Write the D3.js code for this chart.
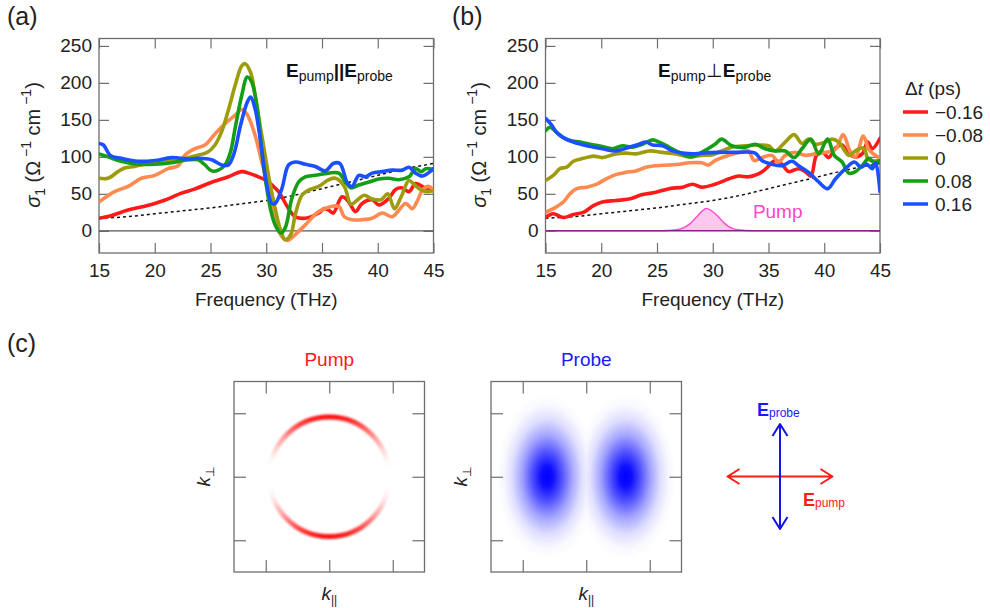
<!DOCTYPE html>
<html>
<head>
<meta charset="utf-8">
<script src="https://cdn.jsdelivr.net/npm/d3@7"></script>
<style>
  body { margin: 0; background: #fff; }
  svg { font-family: "Liberation Sans", Arial, sans-serif; }
</style>
</head>
<body>
<div id="chart"></div>
<script>
// delay labels and colours, shared by both panels and the legend
const delayLabels = ["\u22120.16", "\u22120.08", "0", "0.08", "0.16"];
const delayColors = ["#ff1a1a", "#ff8a50", "#9c9c0c", "#159e15", "#1a50ff"];

const freqTicks = [15, 20, 25, 30, 35, 40, 45];
const sigmaTicks = [0, 50, 100, 150, 200, 250];

// (a) E_pump || E_probe : [frequency THz, sigma_1]
const paraM016 = [[15,17],[16,20],[17.6,28],[19,33],[20,37],[21,42],[22.4,51],[23.5,56],[25,65],[26.6,73],[27.8,80],[28.4,78],[29.3,73],[30,68],[30.5,62],[31.1,53],[32,30],[32.6,19],[33.5,17],[34.7,24],[35.2,30],[35.6,28],[36,24],[36.8,46],[37.4,39],[38,26],[38.6,37],[39.5,42],[40.1,35],[41,44],[41.6,56],[42.2,58],[42.8,53],[43.4,64],[44,60],[44.6,55],[45,57]];
const paraM008 = [[15,39],[16.4,53],[17.6,60],[18.8,71],[20,75],[21.2,84],[22.1,88],[22.7,102],[23.6,111],[24.5,116],[25.4,131],[26.3,145],[27.2,156],[27.8,164],[28.3,157],[29,129],[29.6,93],[30,71],[30.4,42],[30.8,18],[31.4,-8],[31.9,-13],[32.6,-5],[33.5,8],[34.7,26],[35.6,32],[36.5,33],[37,19],[37.7,15],[38.6,15],[39.5,17],[40.4,24],[41.3,19],[41.9,28],[42.5,37],[43.1,30],[43.6,42],[44,55],[44.6,60],[45,54]];
const para000 = [[15,71],[15.8,71],[16.7,80],[17.3,85],[18.2,87],[19.4,91],[20.6,93],[22.1,96],[23.6,101],[24.8,107],[25.4,116],[26,134],[26.6,163],[27.2,196],[27.8,223],[28.1,226],[28.6,214],[29,183],[29.5,138],[30,93],[30.2,75],[30.8,30],[31.3,0],[31.7,-12],[32.2,-5],[32.6,22],[33.2,48],[33.8,55],[34.7,60],[35.6,69],[36.2,71],[37,60],[37.6,36],[38.2,42],[38.8,48],[39.5,43],[40.3,42],[40.9,50],[41.5,30],[42.1,46],[42.8,68],[43.3,62],[43.9,55],[44.5,53],[45,54]];
const paraP008 = [[15,104],[15.8,100],[17,94],[18.5,90],[20,90],[21.5,92],[23,96],[23.9,96],[24.5,89],[25.1,81],[25.7,82],[26.3,89],[26.8,107],[27.2,138],[27.8,183],[28.3,208],[28.7,201],[29.2,165],[29.6,107],[30,62],[30.4,28],[30.8,8],[31.3,-3],[31.7,4],[32.3,44],[32.9,66],[33.5,73],[34.4,75],[35.6,78],[36.5,78],[37.1,66],[37.6,58],[38.3,62],[39.2,66],[40.1,70],[41,71],[41.9,69],[42.8,73],[43.4,84],[43.9,80],[44.3,84],[45,83]];
const paraP016 = [[15,118],[15.4,116],[16,102],[17,98],[18.5,94],[20,95],[21.5,99],[23,97],[23.9,98],[25.1,96],[26,89],[26.6,89],[27.1,104],[27.7,143],[28.3,174],[28.6,181],[29,165],[29.5,120],[30,66],[30.5,37],[30.8,37],[31.4,57],[32,89],[32.6,93],[33.5,90],[34.4,87],[35.3,81],[36,91],[36.6,91],[37.3,64],[37.7,60],[38.3,75],[38.9,73],[39.5,78],[40.4,80],[41.3,82],[42.2,82],[42.8,86],[43.4,78],[44,74],[44.6,79],[45,84]];

// (b) E_pump perpendicular to E_probe
const perpM016 = [[15,18],[15.7,23],[16.6,18],[17.5,22],[18.4,25],[19.3,34],[20.1,39],[21.3,41],[22.5,43],[23.7,49],[24.9,52],[26.1,57],[27.3,59],[28.2,63],[29,59],[30.2,63],[31.4,70],[32.3,74],[33.2,73],[34.1,77],[34.7,83],[35.6,95],[36.2,90],[36.8,80],[37.7,84],[38.3,80],[38.8,74],[39.3,102],[39.8,107],[40.4,99],[41,112],[41.6,116],[42.2,104],[42.8,100],[43.4,104],[43.9,120],[44.3,111],[45,125]];
const perpM008 = [[15,25],[15.7,30],[16.6,39],[17.2,50],[17.8,57],[18.7,59],[19.6,63],[20.4,70],[21.3,76],[22.2,79],[23.1,81],[24,86],[24.9,88],[26.1,89],[27,90],[27.9,92],[29,92],[29.6,89],[30.2,95],[31.4,102],[32.3,106],[33.2,108],[33.7,95],[34.4,99],[35.3,102],[35.9,93],[36.5,102],[37.4,106],[38.3,102],[39.2,104],[40.1,106],[41,110],[41.7,130],[42.3,108],[42.8,100],[43.5,128],[44,110],[44.5,103],[45,98]];
const perp000 = [[15,68],[15.7,75],[16.3,84],[16.9,86],[17.5,94],[18.4,98],[19.3,101],[20.1,99],[21.3,104],[22.2,105],[23.1,104],[24.3,108],[25.5,106],[26.7,104],[27.9,100],[29,102],[30,103],[30.8,108],[31.7,113],[32.9,115],[34.1,116],[35,115],[35.6,108],[36.5,120],[37.3,130],[38,118],[38.6,124],[39.2,117],[40.1,120],[40.7,124],[41.3,120],[42.2,102],[42.8,108],[43.5,112],[44,96],[45,95]];
const perpP008 = [[15,135],[15.4,140],[16,133],[16.6,126],[17.2,122],[18.1,120],[19,117],[20.1,114],[21,111],[21.9,115],[22.8,113],[23.7,117],[24.6,123],[25.2,120],[26.1,113],[27,106],[28.1,100],[29,106],[30.2,117],[30.8,124],[31.7,115],[32.9,113],[33.8,117],[34.7,111],[35.6,108],[36.5,108],[37.3,99],[38,111],[38.8,124],[39.5,104],[40.3,124],[40.9,102],[41.6,93],[42.2,78],[42.8,80],[43.5,90],[44,98],[44.5,92],[45,95]];
const perpP016 = [[15,152],[15.5,144],[16,133],[16.6,126],[17.5,120],[18.7,115],[20.1,111],[21.3,108],[22.5,113],[23.4,117],[24,120],[24.6,116],[25.5,115],[26.4,108],[27.3,105],[28.2,104],[29,105],[30.5,106],[32,106],[33.8,105],[34.4,95],[35.3,90],[36.2,88],[37.1,94],[37.7,88],[38.6,79],[39.5,66],[40.3,57],[41,70],[41.9,84],[42.7,93],[43.3,86],[43.8,90],[44.3,84],[44.6,92],[45,53]];

// equilibrium sigma_1 (dotted) and pump spectrum (arb., drawn in sigma units)
const eqFreq  = [15, 17.5, 20, 22.5, 25, 27.5, 30, 32.5, 35, 37.5, 40, 42.5, 45];
const eqSigma = [17, 19, 23, 27, 31, 36, 41, 48, 57, 66, 75, 84, 91];
const pumpFreq = [15, 25, 26, 27, 27.5, 28, 28.5, 29, 29.4, 29.8, 30.3, 30.8, 31.3, 31.8, 32.5, 33.5, 35, 45];
const pumpAmp  = [0, 0, 0.3, 2, 5, 10, 18, 26, 30, 28, 22, 14, 7, 3, 1, 0.2, 0, 0];

const svg = d3.select("#chart").append("svg")
  .attr("width", 990).attr("height", 608)
  .style("background", "#fff");
const defs = svg.append("defs");

const frameColor = "#6e6e6e";
const textColor = "#222";

function addSigmaLabel(x, y) {
  const t = svg.append("text")
    .attr("transform", `translate(${x},${y}) rotate(-90)`)
    .attr("text-anchor", "middle")
    .attr("font-size", 20)
    .attr("fill", textColor);
  t.append("tspan").attr("font-style", "italic").text("\u03c3");
  t.append("tspan").attr("font-size", 14).attr("dy", 5).text("1");
  t.append("tspan").attr("dy", -5).text(" (\u03a9");
  t.append("tspan").attr("font-size", 14).attr("dy", -9).text(" \u22121");
  t.append("tspan").attr("dy", 9).text(" cm");
  t.append("tspan").attr("font-size", 14).attr("dy", -9).text(" \u22121");
  t.append("tspan").attr("dy", 9).text(")");
}

function spectrumPanel(left, id) {
  const right = left + 334.5, top = 38.5, bottom = 253;
  const x = d3.scaleLinear([15, 45], [left, right]);
  const y = d3.scaleLinear([-30, 260], [bottom, top]);
  const g = svg.append("g");

  defs.append("clipPath").attr("id", "clip-" + id)
    .append("rect").attr("x", left).attr("y", top)
    .attr("width", right - left).attr("height", bottom - top);

  const axes = [
    [d3.axisBottom(x).tickValues(freqTicks).tickSize(-10).tickPadding(11), `translate(0,${bottom})`],
    [d3.axisTop(x).tickValues(freqTicks).tickSize(-10).tickFormat(""), `translate(0,${top})`],
    [d3.axisLeft(y).tickValues(sigmaTicks).tickSize(-10).tickPadding(7), `translate(${left},0)`],
    [d3.axisRight(y).tickValues(sigmaTicks).tickSize(-10).tickFormat(""), `translate(${right},0)`]
  ];
  axes.forEach(([ax, tr]) => {
    const a = g.append("g").attr("transform", tr).call(ax);
    a.select(".domain").remove();
    a.selectAll("line").attr("stroke", frameColor).attr("stroke-width", 1.2);
    a.selectAll("text").attr("font-size", 19).attr("fill", textColor)
      .attr("font-family", "Liberation Sans, Arial, sans-serif");
  });

  g.append("rect").attr("x", left).attr("y", top)
    .attr("width", right - left).attr("height", bottom - top)
    .attr("fill", "none").attr("stroke", frameColor).attr("stroke-width", 1.3);

  g.append("text").attr("x", (left + right) / 2).attr("y", 306)
    .attr("text-anchor", "middle").attr("font-size", 19).attr("fill", textColor)
    .text("Frequency (THz)");

  const plot = g.append("g").attr("clip-path", `url(#clip-${id})`);

  return { x, y, g, plot, left, right };
}

function drawSeries(p, series) {
  const line = d3.line()
    .x(d => p.x(d[0])).y(d => p.y(d[1]))
    .curve(d3.curveCatmullRom.alpha(0.5));
  const dotted = d3.line()
    .x((d, i) => p.x(eqFreq[i])).y(d => p.y(d))
    .curve(d3.curveMonotoneX);
  p.plot.append("path").attr("d", dotted(eqSigma))
    .attr("fill", "none").attr("stroke", "#111")
    .attr("stroke-width", 1.5).attr("stroke-dasharray", "3,3");
  series.forEach((s, i) => {
    p.plot.append("path").attr("d", line(s))
      .attr("fill", "none").attr("stroke", delayColors[i])
      .attr("stroke-width", 3.6)
      .attr("stroke-linejoin", "round").attr("stroke-linecap", "round");
  });
}

function titleText(x, y, mid, midBold) {
  const t = svg.append("text").attr("x", x).attr("y", y)
    .attr("font-size", 19).attr("fill", "#111");
  t.append("tspan").attr("font-weight", "bold").text("E");
  t.append("tspan").attr("font-size", 14).attr("dy", 4).text("pump");
  t.append("tspan").attr("dy", -4).attr("font-weight", midBold ? "bold" : "normal").text(mid);
  t.append("tspan").attr("font-weight", "bold").text("E");
  t.append("tspan").attr("font-size", 14).attr("dy", 4).text("probe");
}

// ---------- panel (a)
const pa = spectrumPanel(99, "a");
pa.plot.append("line")
  .attr("x1", pa.left).attr("x2", pa.right)
  .attr("y1", pa.y(0)).attr("y2", pa.y(0))
  .attr("stroke", "#555").attr("stroke-width", 1.2);
drawSeries(pa, [paraM016, paraM008, para000, paraP008, paraP016]);
titleText(286, 77, "||", true);
addSigmaLabel(40, 145);
svg.append("text").attr("x", 7).attr("y", 25).attr("font-size", 25).attr("fill", textColor).text("(a)");

// ---------- panel (b)
const pb = spectrumPanel(545.5, "b");
const pumpArea = d3.area()
  .x((d, i) => pb.x(pumpFreq[i]))
  .y0(pb.y(0)).y1(d => pb.y(d))
  .curve(d3.curveMonotoneX);
pb.plot.append("path").attr("d", pumpArea(pumpAmp))
  .attr("fill", "#fcc8ee").attr("stroke", "none");
pb.plot.append("path").attr("d", pumpArea.lineY1()(pumpAmp))
  .attr("fill", "none").attr("stroke", "#ff4fd2").attr("stroke-width", 1.5);
pb.plot.append("line")
  .attr("x1", pb.left).attr("x2", pb.right)
  .attr("y1", pb.y(0)).attr("y2", pb.y(0))
  .attr("stroke", "#8a1f8a").attr("stroke-width", 1.6);
drawSeries(pb, [perpM016, perpM008, perp000, perpP008, perpP016]);
svg.append("text").attr("x", pb.x(33.6)).attr("y", pb.y(20) + 2)
  .attr("font-size", 19).attr("fill", "#ff44cc").text("Pump");
titleText(658, 77, "\u22a5", false);
addSigmaLabel(486, 145);
svg.append("text").attr("x", 452).attr("y", 25).attr("font-size", 25).attr("fill", textColor).text("(b)");

// legend
const legend = svg.append("g");
const lt = legend.append("text").attr("x", 905).attr("y", 95)
  .attr("font-size", 19).attr("fill", textColor);
lt.append("tspan").text("\u0394");
lt.append("tspan").attr("font-style", "italic").text("t");
lt.append("tspan").text(" (ps)");
delayLabels.forEach((lab, i) => {
  const yy = 112 + i * 23;
  legend.append("line").attr("x1", 903).attr("x2", 928)
    .attr("y1", yy).attr("y2", yy)
    .attr("stroke", delayColors[i]).attr("stroke-width", 3.5);
  legend.append("text").attr("x", 935).attr("y", yy).attr("dy", "0.35em")
    .attr("font-size", 19).attr("fill", textColor).text(lab);
});

// ---------- panel (c)
svg.append("text").attr("x", 7).attr("y", 352).attr("font-size", 25).attr("fill", textColor).text("(c)");

const kTicks = [-2, 0, 2];
function kBox(left, title, color) {
  const size = 190.5, top = 381.5;
  const kx = d3.scaleLinear([-3, 3], [left, left + size]);
  const ky = d3.scaleLinear([-3, 3], [top + size, top]);
  const g = svg.append("g");
  const axes = [
    [d3.axisBottom(kx).tickValues(kTicks).tickSize(-12).tickFormat(""), `translate(0,${top + size})`],
    [d3.axisTop(kx).tickValues(kTicks).tickSize(-12).tickFormat(""), `translate(0,${top})`],
    [d3.axisLeft(ky).tickValues(kTicks).tickSize(-12).tickFormat(""), `translate(${left},0)`],
    [d3.axisRight(ky).tickValues(kTicks).tickSize(-12).tickFormat(""), `translate(${left + size},0)`]
  ];
  const layer = g.append("g");
  axes.forEach(([ax, tr]) => {
    const a = g.append("g").attr("transform", tr).call(ax);
    a.select(".domain").remove();
    a.selectAll("line").attr("stroke", frameColor).attr("stroke-width", 1.2);
  });
  g.append("rect").attr("x", left).attr("y", top).attr("width", size).attr("height", size)
    .attr("fill", "none").attr("stroke", frameColor).attr("stroke-width", 1.3);
  g.append("text").attr("x", kx(0)).attr("y", 366).attr("text-anchor", "middle")
    .attr("font-size", 19).attr("fill", color).text(title);
  const kl = g.append("text").attr("x", kx(0)).attr("y", 600).attr("text-anchor", "middle")
    .attr("font-size", 19).attr("fill", textColor);
  kl.append("tspan").attr("font-style", "italic").text("k");
  kl.append("tspan").attr("font-size", 12).attr("dy", 4).text("||");
  const kp = g.append("text").attr("transform", `translate(${left - 24},${ky(0)}) rotate(-90)`)
    .attr("text-anchor", "middle").attr("font-size", 19).attr("fill", textColor);
  kp.append("tspan").attr("font-style", "italic").text("k");
  kp.append("tspan").attr("font-size", 12).attr("dy", 4).text("\u22a5");
  return { kx, ky, layer };
}

// pump: ring, strongest along k_perp
const pumpBox = kBox(234, "Pump", "#ff1a1a");
const ringR = 1.88;
const rc = [pumpBox.kx(0), pumpBox.ky(0)];
const rr = pumpBox.kx(ringR) - pumpBox.kx(0);
const ringGrad = defs.append("linearGradient").attr("id", "ringGrad")
  .attr("gradientUnits", "userSpaceOnUse")
  .attr("x1", 0).attr("x2", 0).attr("y1", rc[1] - rr - 3).attr("y2", rc[1] + rr + 3);
[[0, 1], [0.1, 0.68], [0.2, 0.36], [0.3, 0.13], [0.37, 0.03], [0.43, 0], [0.57, 0], [0.63, 0.03], [0.7, 0.13], [0.8, 0.36], [0.9, 0.68], [1, 1]]
  .forEach(([o, a]) => ringGrad.append("stop").attr("offset", o).attr("stop-color", "#ff0000").attr("stop-opacity", a));
defs.append("filter").attr("id", "soft").attr("x", "-20%").attr("y", "-20%").attr("width", "140%").attr("height", "140%")
  .append("feGaussianBlur").attr("stdDeviation", 1.1);
pumpBox.layer.append("circle").attr("cx", rc[0]).attr("cy", rc[1]).attr("r", rr)
  .attr("fill", "none").attr("stroke", "url(#ringGrad)").attr("stroke-width", 5)
  .attr("filter", "url(#soft)");

// probe: two lobes along k_par
const probeBox = kBox(491, "Probe", "#1a1aff");
const lobeX = [-1.24, 1.24];
const blobGrad = defs.append("radialGradient").attr("id", "blobGrad");
[[0, 1], [0.12, 0.95], [0.3, 0.68], [0.5, 0.36], [0.7, 0.13], [0.87, 0.03], [1, 0]]
  .forEach(([o, a]) => blobGrad.append("stop").attr("offset", o).attr("stop-color", "#0000ff").attr("stop-opacity", a));
lobeX.forEach((k, i) => {
  const cx0 = probeBox.kx(0);
  defs.append("clipPath").attr("id", "lobe" + i).append("rect")
    .attr("x", i === 0 ? cx0 - 120 : cx0).attr("y", 300).attr("width", 120).attr("height", 300);
  probeBox.layer.append("ellipse")
    .attr("cx", probeBox.kx(k)).attr("cy", probeBox.ky(0))
    .attr("rx", 50).attr("ry", 82)
    .attr("fill", "url(#blobGrad)")
    .attr("clip-path", `url(#lobe${i})`);
});

// polarisation arrows
const arrowC = [780, 476.5];
const arm = 52.5;
const head = [12, 7.5];
const arrows = svg.append("g").attr("fill", "none").attr("stroke-width", 2).attr("stroke-linejoin", "round");
arrows.append("path").attr("stroke", "#ff1a1a")
  .attr("d", `M${arrowC[0] - arm},${arrowC[1]}H${arrowC[0] + arm}
    M${arrowC[0] - arm + head[0]},${arrowC[1] - head[1]}L${arrowC[0] - arm},${arrowC[1]}L${arrowC[0] - arm + head[0]},${arrowC[1] + head[1]}
    M${arrowC[0] + arm - head[0]},${arrowC[1] - head[1]}L${arrowC[0] + arm},${arrowC[1]}L${arrowC[0] + arm - head[0]},${arrowC[1] + head[1]}`);
arrows.append("path").attr("stroke", "#1414e6")
  .attr("d", `M${arrowC[0]},${arrowC[1] - arm}V${arrowC[1] + arm}
    M${arrowC[0] - head[1]},${arrowC[1] - arm + head[0]}L${arrowC[0]},${arrowC[1] - arm}L${arrowC[0] + head[1]},${arrowC[1] - arm + head[0]}
    M${arrowC[0] - head[1]},${arrowC[1] + arm - head[0]}L${arrowC[0]},${arrowC[1] + arm}L${arrowC[0] + head[1]},${arrowC[1] + arm - head[0]}`);

function fieldLabel(x, y, sub, color) {
  const t = svg.append("text").attr("x", x).attr("y", y).attr("font-size", 18).attr("fill", color);
  t.append("tspan").attr("font-weight", "bold").text("E");
  t.append("tspan").attr("font-size", 12).attr("dy", 1).text(sub);
}
fieldLabel(757, 416, "probe", "#1a1aff");
fieldLabel(803, 506, "pump", "#ff1a1a");
</script>
</body>
</html>
